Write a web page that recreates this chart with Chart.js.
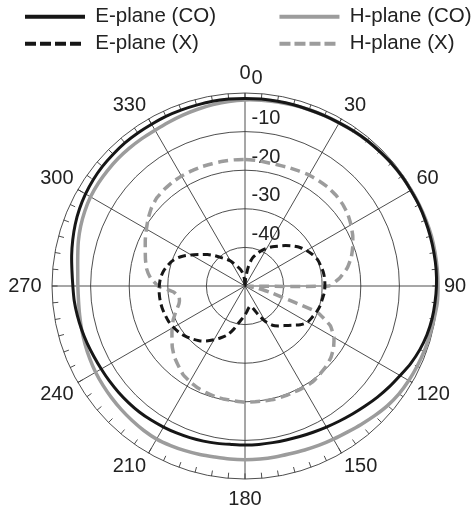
<!DOCTYPE html>
<html>
<head>
<meta charset="utf-8">
<script src="https://cdn.jsdelivr.net/npm/chart.js@4.4.1/dist/chart.umd.min.js"></script>
<style>
  html, body { margin: 0; padding: 0; background: #ffffff; }
  #wrap { width: 475px; height: 510px; position: relative; }
</style>
</head>
<body>
<div id="wrap"><canvas id="c"></canvas></div>
<script>
// ---- categories: azimuth angle in degrees (one every 5 degrees) ----
const angleCategories = ['0','5','10','15','20','25','30','35','40','45','50','55',
  '60','65','70','75','80','85','90','95','100','105','110','115',
  '120','125','130','135','140','145','150','155','160','165','170','175',
  '180','185','190','195','200','205','210','215','220','225','230','235',
  '240','245','250','255','260','265','270','275','280','285','290','295',
  '300','305','310','315','320','325','330','335','340','345','350','355'];

// angle labels printed round the chart
const angleTickLabels = ['0','30','60','90','120','150','180','210','240','270','300','330'];

// radial (dB) tick labels
const dbTicks = [0, -10, -20, -30, -40];
const dbMin = -50;
const dbMax = 0;

// ---- series values (dB) ----
const ePlaneCo = [
  -1.4, -1.4, -1.4, -1.4, -1.4, -1.3, -1.2, -1.0, -0.8, -0.7, -0.5, -0.4,
  -0.4, -0.3, -0.3, -0.3, -0.3, -0.3, -0.4, -0.6, -0.8, -1.2, -1.8, -2.6,
  -3.6, -4.4, -5.2, -6.0, -6.7, -7.3, -7.8, -8.2, -8.5, -8.7, -8.8, -8.8,
  -8.8, -8.8, -8.6, -8.4, -8.2, -8.0, -7.8, -7.6, -7.4, -7.3, -7.2, -7.1,
  -7.0, -6.8, -6.5, -6.2, -5.9, -5.6, -5.4, -5.0, -4.4, -3.8, -3.2, -2.7,
  -2.3, -2.0, -1.8, -1.7, -1.6, -1.6, -1.6, -1.5, -1.5, -1.5, -1.4, -1.4
];
const hPlaneCo = [
  -1.8, -1.7, -1.6, -1.5, -1.4, -1.3, -1.2, -1.0, -0.8, -0.6, -0.5, -0.4,
  -0.3, -0.2, -0.1, 0.0, 0.0, 0.0, 0.0, 0.0, -0.3, -0.5, -0.6, -0.8,
  -1.0, -1.3, -1.8, -2.5, -3.2, -3.8, -4.2, -4.5, -4.8, -5.0, -5.0, -5.0,
  -5.0, -5.0, -5.0, -4.8, -4.6, -4.4, -4.2, -4.3, -4.5, -4.7, -4.9, -5.1,
  -5.3, -5.6, -5.9, -6.2, -6.5, -6.7, -6.7, -6.5, -6.0, -5.3, -4.7, -4.2,
  -3.8, -3.6, -3.5, -3.4, -3.4, -3.4, -3.4, -3.2, -2.9, -2.6, -2.3, -2.0
];
const ePlaneX = [
  -50.0, -48.0, -44.8, -42.5, -41.2, -39.9, -38.7, -37.6, -36.5, -35.2, -33.9, -32.6,
  -31.6, -30.7, -30.0, -29.7, -29.4, -29.3, -29.3, -29.4, -29.7, -29.9, -30.3, -30.8,
  -31.3, -32.5, -34.2, -35.5, -36.5, -37.6, -39.4, -41.7, -43.8, -44.6, -44.3, -43.5,
  -42.5, -41.5, -40.2, -38.3, -36.5, -35.2, -33.9, -32.6, -31.5, -30.6, -29.8, -29.1,
  -28.6, -28.2, -28.0, -27.8, -27.7, -27.7, -27.8, -28.0, -28.5, -29.3, -30.3, -31.9,
  -33.9, -35.8, -37.3, -38.9, -40.4, -41.5, -42.5, -43.8, -44.8, -45.6, -46.6, -48.2
];
const hPlaneX = [
  -17.2, -17.3, -17.5, -17.5, -17.3, -17.1, -16.8, -16.7, -16.6, -16.7, -17.0, -17.5,
  -18.3, -19.2, -20.3, -21.5, -23.1, -25.3, -28.2, -49.0, -46.5, -42.5, -30.0, -25.6,
  -23.4, -22.0, -21.0, -20.4, -20.0, -19.6, -19.6, -19.7, -19.7, -19.7, -19.8, -19.9,
  -19.9, -20.1, -20.2, -20.3, -20.6, -20.9, -21.4, -22.0, -23.1, -24.1, -25.4, -26.9,
  -28.2, -29.5, -31.0, -32.3, -32.7, -31.5, -27.5, -25.4, -24.1, -23.3, -22.5, -21.5,
  -20.5, -19.4, -18.4, -17.7, -17.4, -17.2, -17.1, -17.1, -17.1, -17.2, -17.2, -17.2
];

const seriesNames = ['E-plane (CO)', 'H-plane (CO)', 'E-plane (X)', 'H-plane (X)'];

// ---- styles ----
const FONT_FAMILY = "'Liberation Sans', Arial, Helvetica, sans-serif";
const LABEL_SIZE = 20;
const LEGEND_SIZE = 20.5;
const TEXT_COLOR = '#222222';
const GRID_COLOR = '#3a3a3a';
const BLACK = '#161616';
const GREY = '#9c9c9c';
const LEGEND_PAD = 6.5;
const LEGEND_LINE = 60;
const LEGEND_COLUMN = 253;
const LEGEND_INDENT = 18.5;

// gap between the outer ring and each printed angle label
function angleLabelGap(label) {
  if (label === '0' || label === '180') return 11;
  if (label === '90') return 6;
  if (label === '270') return 10.5;
  if (angleTickLabels.includes(label)) return 5;
  return 0;
}

// short ticks round the outer ring, every 5 degrees
const outerTicks = {
  id: 'outerTicks',
  beforeDatasetsDraw(chart) {
    const s = chart.scales.r;
    const ctx = chart.ctx;
    ctx.save();
    ctx.strokeStyle = GRID_COLOR;
    ctx.lineWidth = 0.9;
    for (let i = 0; i < chart.data.labels.length; i++) {
      const a = s.getPointPositionForValue(i, s.max);
      const b = s.getPointPositionForValue(i, s.max - 1.45);
      ctx.beginPath();
      ctx.moveTo(a.x, a.y);
      ctx.lineTo(b.x, b.y);
      ctx.stroke();
    }
    ctx.restore();
  }
};

// dB tick labels, written just above each ring on the right of the 0 deg spoke
const ringLabels = {
  id: 'ringLabels',
  beforeDatasetsDraw(chart) {
    const s = chart.scales.r;
    const ctx = chart.ctx;
    ctx.save();
    ctx.font = LABEL_SIZE + 'px ' + FONT_FAMILY;
    ctx.fillStyle = TEXT_COLOR;
    ctx.textAlign = 'left';
    ctx.textBaseline = 'middle';
    dbTicks.forEach(v => {
      const p = s.getPointPositionForValue(0, v);
      ctx.fillText(String(v), p.x + 6.5, p.y - (v === 0 ? 15 : 13));
    });
    ctx.restore();
  }
};

// indent the legend to the reference's left margin
const legendIndent = {
  id: 'legendIndent',
  afterLayout(chart) {
    if (chart.legend) {
      chart.legend.left += LEGEND_INDENT;
      chart.legend.right += LEGEND_INDENT;
    }
  }
};

const datasets = [
  { label: seriesNames[0], data: ePlaneCo, borderColor: BLACK, backgroundColor: BLACK,
    borderWidth: 3, tension: 0.3 },
  { label: seriesNames[1], data: hPlaneCo, borderColor: GREY, backgroundColor: GREY,
    borderWidth: 3.5, tension: 0.3 },
  { label: seriesNames[2], data: ePlaneX, borderColor: BLACK, backgroundColor: BLACK,
    borderWidth: 3, borderDash: [8, 4.5], tension: 0.3 },
  { label: seriesNames[3], data: hPlaneX, borderColor: GREY, backgroundColor: GREY,
    borderWidth: 3.5, borderDash: [10, 5.5], tension: 0.12 }
];
datasets.forEach(d => { d.fill = false; d.pointRadius = 0; d.pointHitRadius = 0; });

new Chart(document.getElementById('c'), {
  type: 'radar',
  data: { labels: angleCategories, datasets: datasets },
  plugins: [outerTicks, ringLabels, legendIndent],
  options: {
    responsive: true,
    maintainAspectRatio: false,
    animation: false,
    events: [],
    layout: { padding: { left: 0, right: 0, top: 0, bottom: 2 } },
    plugins: {
      tooltip: { enabled: false },
      legend: {
        display: true,
        position: 'top',
        align: 'start',
        labels: {
          usePointStyle: true,
          pointStyleWidth: LEGEND_LINE,
          padding: LEGEND_PAD,
          color: TEXT_COLOR,
          font: { size: LEGEND_SIZE, family: FONT_FAMILY },
          generateLabels(chart) {
            const items = Chart.defaults.plugins.legend.labels.generateLabels(chart);
            const ctx = chart.ctx;
            ctx.save();
            ctx.font = LEGEND_SIZE + 'px ' + FONT_FAMILY;
            const target = LEGEND_COLUMN - LEGEND_PAD - LEGEND_LINE - LEGEND_SIZE / 2 - 2.7;
            items.forEach(it => {
              const ds = chart.data.datasets[it.datasetIndex];
              it.pointStyle = 'line';
              it.lineWidth = 4;
              it.lineCap = 'butt';
              it.lineDash = ds.borderDash ? [11, 4] : [];
              if (it.datasetIndex % 2 === 0) {
                while (ctx.measureText(it.text).width < target) it.text += ' ';
              }
            });
            ctx.restore();
            return items;
          }
        }
      }
    },
    scales: {
      r: {
        min: dbMin,
        max: dbMax,
        startAngle: 0,
        ticks: { stepSize: 10, display: false },
        grid: { circular: true, color: GRID_COLOR, lineWidth: 0.9 },
        angleLines: {
          display: true,
          color: GRID_COLOR,
          lineWidth: ctx => (angleTickLabels.includes(angleCategories[ctx.index]) ? 0.9 : 0)
        },
        pointLabels: {
          display: true,
          padding: ctx => angleLabelGap(angleCategories[ctx.index]),
          color: TEXT_COLOR,
          font: { size: LABEL_SIZE, family: FONT_FAMILY, lineHeight: 0.9 },
          callback: label => (angleTickLabels.includes(label) ? label : '')
        }
      }
    }
  }
});
</script>
</body>
</html>
